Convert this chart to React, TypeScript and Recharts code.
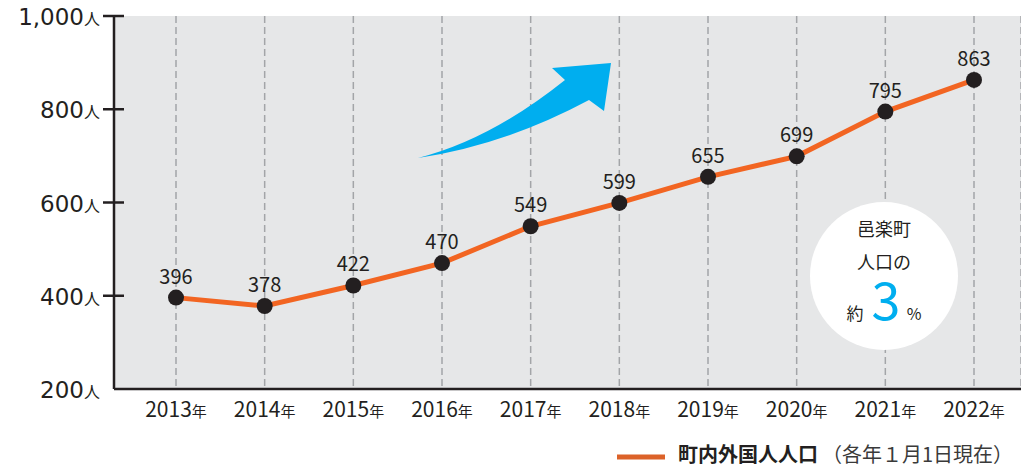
import React from "react"
import {
  LineChart,
  Line,
  XAxis,
  YAxis,
  CartesianGrid,
  LabelList
} from "recharts"

const years = ["2013", "2014", "2015", "2016", "2017", "2018", "2019", "2020", "2021", "2022"]
const population = [396, 378, 422, 470, 549, 599, 655, 699, 795, 863]
const yTicks = [200, 400, 600, 800, 1000]

const INK = "#231f20"
const ORANGE = "#f26522"
const BLUE = "#00aeef"
const FONT = "'Noto Sans CJK JP', 'Noto Sans', sans-serif"

const data = years.map((year, i) => ({ year, value: population[i] }))

function YTick({ x, y, payload }: any) {
  return (
    <g>
      {payload.value !== 200 && (
        <line x1={x - 11} x2={x + 10} y1={y} y2={y} stroke={INK} strokeWidth={2.5} />
      )}
      <text x={x - 14} y={y + 9} textAnchor="end" fill={INK}>
        <tspan fontFamily="'DejaVu Sans', sans-serif" fontSize={23}>
          {payload.value.toLocaleString("en-US")}
        </tspan>
        <tspan fontFamily={FONT} fontSize={16}>人</tspan>
      </text>
    </g>
  )
}

function XTick({ x, y, payload }: any) {
  return (
    <text x={x} y={y + 28} textAnchor="middle" fill={INK} fontFamily={FONT}>
      <tspan fontSize={21}>{payload.value}</tspan>
      <tspan fontSize={15}>年</tspan>
    </text>
  )
}

export default function App() {
  return (
    <div style={{ position: "absolute", left: 0, top: 0, width: 1021, height: 469, background: "#fff", fontFamily: FONT }}>
      <LineChart width={1021} height={469} data={data} margin={{ top: 16, right: 0, bottom: 40, left: 0 }}>
        <CartesianGrid
          horizontal={false}
          strokeDasharray="7 4"
          stroke="#a3a5a8"
          strokeWidth={1.5}
          fill="#e6e7e8"
        />
        <XAxis
          dataKey="year"
          height={40}
          padding={{ left: 62, right: 47 }}
          tickLine={false}
          tickSize={0}
          tickMargin={0}
          axisLine={{ stroke: INK, strokeWidth: 2.5 }}
          tick={<XTick />}
          interval={0}
        />
        <YAxis
          width={114}
          domain={[200, 1000]}
          ticks={yTicks}
          tickLine={false}
          tickSize={0}
          tickMargin={0}
          axisLine={{ stroke: INK, strokeWidth: 2.5 }}
          tick={<YTick />}
          interval={0}
        />
        <Line
          type="linear"
          dataKey="value"
          stroke={ORANGE}
          strokeWidth={5}
          dot={{ r: 8, fill: INK, stroke: "none" }}
          activeDot={false}
          isAnimationActive={false}
        >
          <LabelList dataKey="value" position="top" offset={14} fill={INK} fontSize={20} fontFamily={FONT} />
        </Line>
      </LineChart>

      {/* decorations: arrow, bubble and legend */}
      <svg width={1021} height={469} style={{ position: "absolute", left: 0, top: 0, pointerEvents: "none" }}>
        <path
          d="M418,158 Q490,140 565,80 L552,68 L611,63 L604,111 L589,100 Q505,145 418,158 Z"
          fill={BLUE}
        />
        <circle cx={884} cy={276} r={74} fill="#fff" />
        <text x={884} y={236} textAnchor="middle" fontSize={18} fill={INK} fontFamily={FONT}>邑楽町</text>
        <text x={884} y={269} textAnchor="middle" fontSize={18} fill={INK} fontFamily={FONT}>人口の</text>
        <text x={855} y={320} textAnchor="middle" fontSize={17} fill={INK} fontFamily={FONT}>約</text>
        <text x={886} y={320} textAnchor="middle" fontSize={52} fill={BLUE} fontFamily={FONT}>3</text>
        <text x={914} y={320} textAnchor="middle" fontSize={16} fill={INK} fontFamily={FONT}>%</text>

        <line x1={617} x2={665} y1={457} y2={457} stroke="#dc6229" strokeWidth={5} />
        <text x={678} y={462} fontSize={20} fill={INK} fontFamily={FONT}>
          <tspan fontWeight="bold">町内外国人人口</tspan>
          <tspan dx={4} fill="#3a3a3a">（各年１月1日現在）</tspan>
        </text>
      </svg>
    </div>
  )
}
